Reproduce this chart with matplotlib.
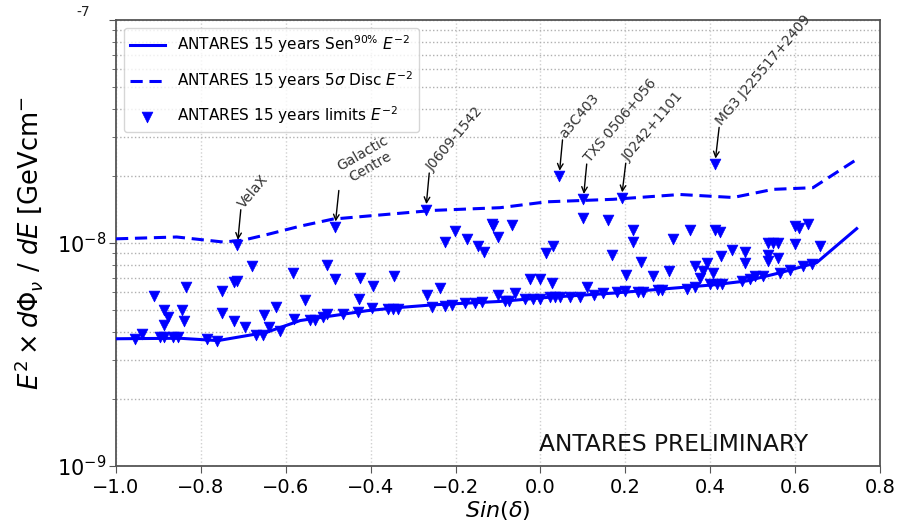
import matplotlib
matplotlib.use("Agg")
import matplotlib.pyplot as plt
import numpy as np

# ---- data (flux values in units of 1e-9 GeV cm^-2 s^-1) ----
sens_sindec = [-1.0, -0.85, -0.76, -0.645, -0.566, -0.489, -0.409, -0.331, -0.253,
               -0.095, 0.015, 0.171, 0.329, 0.407, 0.486, 0.565, 0.651, 0.745]
sens_flux = [3.72, 3.74, 3.65, 3.98, 4.49, 4.72, 4.97, 5.14, 5.28,
             5.47, 5.70, 5.96, 6.31, 6.49, 6.76, 7.36, 8.17, 11.6]

disc_sindec = [-1.0, -0.857, -0.747, -0.70, -0.645, -0.566, -0.489, -0.409, -0.253,
               -0.095, 0.015, 0.171, 0.329, 0.454, 0.548, 0.642, 0.745]
disc_flux = [10.44, 10.64, 10.1, 10.3, 10.9, 11.9, 12.8, 13.2, 14.0,
             14.4, 15.3, 15.7, 16.5, 16.0, 17.4, 17.7, 23.7]

lim_sindec = [
    -0.955, -0.939, -0.910, -0.888, -0.878, -0.888, -0.896, -0.888, -0.865, -0.855,
    -0.835, -0.845, -0.839, -0.786, -0.762, -0.751, -0.751, -0.722, -0.716, -0.722,
    -0.696, -0.680, -0.714, -0.670, -0.653, -0.651, -0.639, -0.623, -0.614, -0.584,
    -0.581, -0.555, -0.543, -0.531, -0.504, -0.512, -0.504, -0.484, -0.485, -0.466,
    -0.424, -0.427, -0.429, -0.398, -0.395, -0.345, -0.358, -0.347, -0.335,
    -0.270, -0.267, -0.256, -0.236, -0.225, -0.225, -0.209, -0.202, -0.174, -0.178,
    -0.154, -0.138, -0.147, -0.132, -0.115, -0.111, -0.099, -0.099, -0.067, -0.083,
    -0.075, -0.060, -0.036, -0.017, 0.0, -0.025, 0.0, 0.014, 0.030, 0.027,
    0.044, 0.101, 0.191, 0.411, 0.101, 0.160, 0.217, 0.217, 0.352, 0.313,
    0.411, 0.424, 0.169, 0.237, 0.363, 0.392, 0.384, 0.376, 0.407, 0.302,
    0.265, 0.202, 0.110, 0.425, 0.451, 0.482, 0.482, 0.537, 0.549, 0.560,
    0.537, 0.537, 0.560, 0.600, 0.608, 0.631, 0.600, 0.659,
    0.023, 0.034, 0.046, 0.070, 0.093, 0.125, 0.148, 0.180, 0.199, 0.231,
    0.242, 0.278, 0.286, 0.345, 0.364, 0.399, 0.415, 0.427, 0.474, 0.494,
    0.506, 0.525, 0.564, 0.588, 0.619, 0.639,
]
lim_flux = [
    3.72, 3.91, 5.80, 5.02, 4.67, 4.30, 3.77, 3.77, 3.77, 3.77,
    6.33, 5.02, 4.49, 3.72, 3.65, 6.11, 4.87, 6.70, 6.77, 4.49,
    4.22, 7.86, 9.75, 3.88, 3.88, 4.75, 4.19, 5.16, 4.05, 7.35,
    4.56, 5.54, 4.51, 4.51, 7.97, 4.64, 4.81, 11.79, 6.93, 4.81,
    7.00, 5.61, 4.88, 5.09, 6.43, 7.12, 5.06, 5.06, 5.06,
    14.11, 5.86, 5.18, 6.27, 10.07, 5.23, 5.29, 11.31, 10.39, 5.36,
    5.36, 5.41, 9.70, 9.15, 12.12, 11.91, 10.64, 5.86, 12.03, 5.51,
    5.51, 5.94, 5.61, 5.61, 5.61, 6.89, 6.89, 9.05, 9.70, 6.65,
    19.92, 15.67, 15.93, 22.59, 12.97, 12.63, 11.45, 10.10, 11.45, 10.39,
    11.40, 11.17, 8.87, 8.20, 7.90, 8.13, 7.50, 7.00, 7.30, 7.50,
    7.08, 7.22, 6.32, 8.75, 9.28, 9.15, 8.16, 10.03, 10.03, 10.03,
    8.84, 8.31, 8.55, 11.91, 11.70, 12.12, 9.85, 9.70,
    5.74, 5.74, 5.70, 5.70, 5.70, 5.86, 5.94, 6.00, 6.11, 6.06,
    6.06, 6.15, 6.15, 6.21, 6.32, 6.58, 6.58, 6.58, 6.77, 6.89,
    7.12, 7.12, 7.37, 7.55, 7.90, 8.03,
]

# Labelled sources: name, marker position, arrow tail position
src_names = ["VelaX", "J0609-1542", "a3C403", "TXS 0506+056", "J0242+1101", "MG3 J225517+2409"]
src_sindec = [-0.714, -0.270, 0.044, 0.101, 0.191, 0.411]
src_flux = [9.75, 14.11, 19.92, 15.67, 15.93, 22.59]
src_text_sindec = [-0.706, -0.262, 0.052, 0.109, 0.201, 0.421]
src_text_flux = [14.1, 20.6, 29.0, 22.6, 22.8, 33.0]

gc_sindec, gc_flux = -0.484, 11.79
gc_tail_sindec, gc_tail_flux = -0.475, 17.2
gc_text_sindec, gc_text_flux = -0.410, 23.5

xticks = [-1.0, -0.8, -0.6, -0.4, -0.2, 0.0, 0.2, 0.4, 0.6, 0.8]

unit = 1e-9
blue = "#0000ff"

fig = plt.figure(figsize=(9.06, 5.27), dpi=100)
ax = fig.add_axes([116 / 906, 1 - 466 / 527, 764 / 906, 446 / 527])

ax.set_yscale("log")
ax.set_xlim(-1.0, 0.8)
ax.set_ylim(1e-9, 1e-7)

ax.plot(sens_sindec, np.array(sens_flux) * unit, color=blue, lw=2.2,
        label=r"ANTARES 15 years Sen$^{90\%}$ $E^{-2}$", zorder=3)
ax.plot(disc_sindec, np.array(disc_flux) * unit, color=blue, lw=2.2, ls=(0, (4, 2.2)),
        label=r"ANTARES 15 years 5$\sigma$ Disc $E^{-2}$", zorder=3)
ax.scatter(lim_sindec, np.array(lim_flux) * unit, marker="v", s=60, color=blue,
           edgecolors=blue, linewidths=0.5,
           label=r"ANTARES 15 years limits $E^{-2}$", zorder=4)

arrow_kw = dict(arrowstyle="->", color="black", lw=1.0, shrinkA=0, shrinkB=4)
for name, sx, sf, tx, tf in zip(src_names, src_sindec, src_flux, src_text_sindec, src_text_flux):
    ax.annotate("", xy=(sx, sf * unit), xytext=(tx, tf * unit), arrowprops=arrow_kw, zorder=5)
    ax.text(tx + 0.012, tf * unit * 0.99, name, rotation=50, rotation_mode="anchor",
            ha="left", va="bottom", fontsize=10, color="#333333")

ax.annotate("", xy=(gc_sindec, gc_flux * unit), xytext=(gc_tail_sindec, gc_tail_flux * unit),
            arrowprops=arrow_kw, zorder=5)
ax.text(gc_text_sindec, gc_text_flux * unit, "Galactic\nCentre", rotation=30,
        rotation_mode="anchor", ha="center", va="center", multialignment="center",
        fontsize=10, color="#333333")

ax.text(0.730, 0.022, "ANTARES PRELIMINARY", transform=ax.transAxes,
        ha="center", va="bottom", fontsize=16.8, color="#111111")

# axes styling
ax.set_xticks(xticks)
ax.set_yticks([1e-9, 1e-8, 1e-7])
ax.set_yticklabels([r"$10^{-9}$", r"$10^{-8}$", ""])
ax.text(-0.034, 1.0 + 8 / 446, "-7", transform=ax.transAxes, ha="right", va="center",
        fontsize=10, color="#222222")
ax.tick_params(axis="x", which="major", labelsize=14, direction="out", length=5,
               color="#555555")
ax.tick_params(axis="y", which="major", labelsize=15, direction="out", length=5,
               color="#555555", pad=2)
ax.tick_params(axis="y", which="minor", direction="out", length=3, color="#555555")
for sp in ax.spines.values():
    sp.set_color("#555555")
    sp.set_linewidth(1.3)

ax.grid(True, axis="x", which="major", color="#d0d0d0", ls=":", lw=1.0)
ax.grid(True, axis="y", which="both", color="#b0b0b0", ls=":", lw=1.0)
ax.set_axisbelow(True)

ax.set_xlabel(r"$Sin(\delta)$", fontsize=16)
ax.xaxis.set_label_coords(0.5, -0.075)
ax.set_ylabel(r"$E^2 \times d\Phi_\nu\ /\ dE$ [GeVcm$^{-}$", fontsize=18.5)
ax.yaxis.set_label_coords(-0.093, 0.5)

leg = ax.legend(loc="upper left", fontsize=11, labelspacing=0.9, handlelength=2.3,
                framealpha=0.8, edgecolor="#cccccc", scatterpoints=1)

fig.savefig("out.png", dpi=100)
